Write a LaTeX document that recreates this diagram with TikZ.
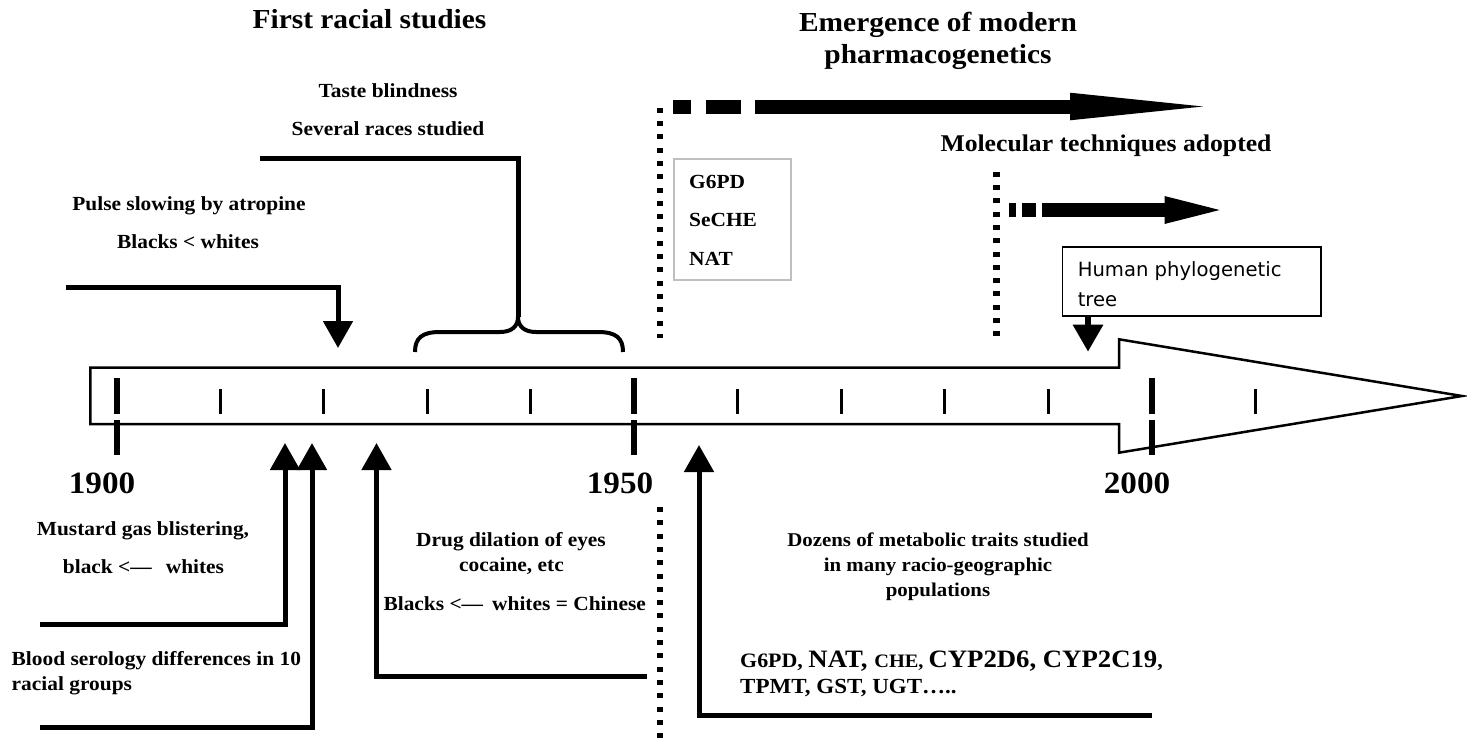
\documentclass[tikz,border=0pt]{standalone}
\usepackage{fontspec}
\setmainfont{Liberation Serif}[FakeStretch=1.07]
\newfontfamily\comicfont{DejaVu Sans}
\usetikzlibrary{arrows.meta}
\newcommand\setfs[1]{\fontsize{#1}{#1}\selectfont}
\tikzset{
  lbl/.style={inner sep=0pt, anchor=base, font={\bfseries\setfs{20}}},
  lblw/.style={lbl, anchor=base west},
  title/.style={lbl, font={\bfseries\setfs{27.5}}},
  year/.style={lbl, font={\bfseries\setfs{31}}},
  conn/.style={line width=5pt, -{Triangle[length=27pt,width=29pt]}},
  dotline/.style={line width=6.5pt, dash pattern=on 5pt off 8.3pt},
  minortick/.style={line width=3pt},
  majortick/.style={line width=6pt},
}
\begin{document}
\begin{tikzpicture}[x=1pt,y=-1pt]
\useasboundingbox (0,0) rectangle (1467,742);
\fill[white] (0,0) rectangle (1467,742);

% titles
\node[title] (t1) at (369.5,28) {First racial studies};
\node[title] (t2) at (938,31.7) {Emergence of modern};
\node[title] (t3) at (938,63.3) {pharmacogenetics};

% timeline arrow
\draw[line width=2.5pt, line join=miter] (90.4,367.5) -- (1119,367.5) -- (1119,339.3) -- (1462,396) -- (1119,452.7) -- (1119,424) -- (90.4,424) -- cycle;
\foreach \i in {1,2,3,4,6,7,8,9,11} {
  \draw[minortick] ({117+103.46*\i},389) -- ({117+103.46*\i},414);
}
\foreach \i in {0,5,10} {
  \draw[majortick] ({117+103.46*\i},378) -- ({117+103.46*\i},414);
  \draw[majortick] ({117+103.46*\i},420) -- ({117+103.46*\i},455);
}
\node[year] (y1900) at (102,493) {1900};
\node[year] (y1950) at (620,493) {1950};
\node[year] (y2000) at (1137,493) {2000};

% taste blindness
\node[lbl] (taste1) at (388,97) {Taste blindness};
\node[lbl] (taste2) at (388,135) {Several races studied};
\coordinate (tasteS) at (260,158);
\coordinate (tasteT) at (518,317);
\draw[line width=5pt] (tasteS) -| (tasteT);
\draw[line width=4pt] (415,352) .. controls (415,338) and (422,332) .. (440,332) -- (500,332)
   .. controls (512,332) and (518,326) .. (tasteT)
   .. controls (518,326) and (524,332) .. (536,332) -- (598,332)
   .. controls (616,332) and (623,338) .. (623,352);

% pulse
\node[lbl] (pulse1) at (189,210) {Pulse slowing by atropine};
\node[lbl] (pulse2) at (188,248) {Blacks < whites};
\coordinate (pulseS) at (66,287);
\coordinate (pulseT) at (338,348);
\draw[conn] (pulseS) -| (pulseT);

% dotted lines
\coordinate (d1a) at (660,107.7); \coordinate (d1b) at (660,338);
\coordinate (d2a) at (996.3,171.7); \coordinate (d2b) at (996.3,338);
\coordinate (d3a) at (660,507); \coordinate (d3b) at (660,742);
\draw[dotline] (d1a) -- (d1b);
\draw[dotline] (d2a) -- (d2b);
\draw[dotline] (d3a) -- (d3b);

% dashed arrow 1
\fill (672.7,99.5) rectangle (691,113.5);
\fill (705.7,99.5) rectangle (740.7,113.5);
\fill (755,99.5) rectangle (1071,113.5);
\fill (1070,92.7) -- (1203,106.5) -- (1070,120.3) -- cycle;

% G6PD box
\node[draw=gray!50, line width=2pt, minimum width=117pt, minimum height=121.6pt, anchor=north west, inner sep=0pt] (box1) at (672.7,157.7) {};
\node[lblw] (g1) at (689,188) {G6PD};
\node[lblw] (g2) at (689,226.7) {SeCHE};
\node[lblw] (g3) at (689,265) {NAT};

% molecular
\node[lbl, font={\bfseries\setfs{24}}] (mol) at (1106,151.7) {Molecular techniques adopted};
\fill (1009,203) rectangle (1015.5,217);
\fill (1021.6,203) rectangle (1036,217);
\fill (1042,203) rectangle (1165,217);
\fill (1164.5,196) -- (1219.6,210) -- (1164.5,224) -- cycle;

% human phylogenetic tree
\node[draw, line width=1.5pt, minimum width=258.5pt, minimum height=69pt, anchor=north west, inner sep=0pt] (hbox) at (1061.5,246) {};
\node[inner sep=0pt, anchor=base west, font={\comicfont\setfs{19.6}}] (h1) at (1077.6,276.7) {Human phylogenetic};
\node[inner sep=0pt, anchor=base west, font={\comicfont\setfs{19.6}}] (h2) at (1077.6,306.7) {tree};
\coordinate (hS) at (1088,315);
\coordinate (hT) at (1088,351.7);
\draw[line width=6pt, -{Triangle[length=27pt,width=29pt]}] (hS) -- (hT);

% mustard gas
\node[lbl] (mg1) at (143,535) {Mustard gas blistering,};
\node[lbl] (mg2) at (143.5,573) {black <—\hspace{14pt}whites};
\coordinate (mgS) at (40,624);
\coordinate (mgT) at (285,443);
\draw[conn] (mgS) -| (mgT);

% blood serology
\node[lblw] (bs1) at (11.5,665) {Blood serology differences in 10};
\node[lblw] (bs2) at (11.5,690) {racial groups};
\coordinate (bsS) at (40,727);
\coordinate (bsT) at (312,443);
\draw[conn] (bsS) -| (bsT);

% drug dilation
\node[lbl] (dd1) at (511,546) {Drug dilation of eyes};
\node[lbl] (dd2) at (511.5,571.7) {cocaine, etc};
\node[lbl] (dd3) at (514.7,610) {Blacks <—\hspace{9pt}whites = Chinese};
\coordinate (ddS) at (647,676);
\coordinate (ddT) at (376.5,443);
\draw[conn] (ddS) -| (ddT);

% dozens
\node[lbl, font={\bfseries\setfs{19.5}}] (dz1) at (938,546.7) {Dozens of metabolic traits studied};
\node[lbl, font={\bfseries\setfs{19.5}}] (dz2) at (938,571.7) {in many racio-geographic};
\node[lbl, font={\bfseries\setfs{19.5}}] (dz3) at (938,596.7) {populations};
\node[lblw] (gl1) at (740,667.3) {{\setfs{20.5}G6PD, }{\setfs{25}NAT, }{\setfs{19}CHE, }{\setfs{25}CYP2D6, CYP2C19}{\setfs{20.5},}};
\node[lblw, font={\bfseries\setfs{21.5}}] (gl2) at (740,693) {TPMT, GST, UGT…..};
\coordinate (dzS) at (1152,715);
\coordinate (dzT) at (699,445);
\draw[conn] (dzS) -| (dzT);
\end{tikzpicture}
\end{document}
